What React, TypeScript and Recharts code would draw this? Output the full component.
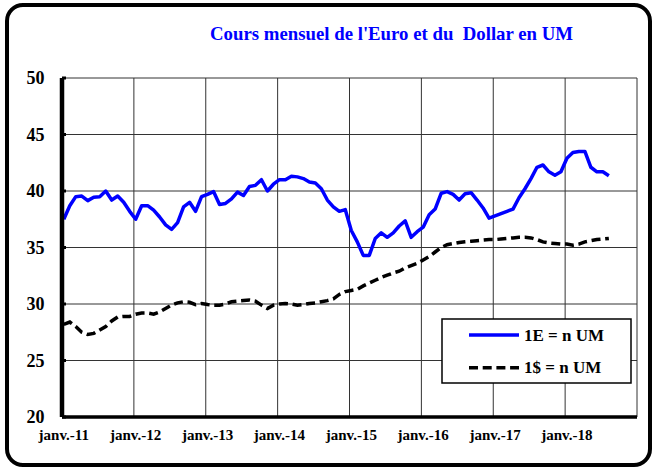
import React from 'react';
import { LineChart, Line, XAxis, YAxis, CartesianGrid, ReferenceLine, Legend } from 'recharts';

const yearLabels = ['janv.-11', 'janv.-12', 'janv.-13', 'janv.-14', 'janv.-15', 'janv.-16', 'janv.-17', 'janv.-18'];
const yearBoundaries = [12, 24, 36, 48, 60, 72, 84, 96];
const yTicks = [20, 25, 30, 35, 40, 45, 50];
const seriesNames = ['1E = n UM', '1$ = n UM'];

// monthly values from janv.-11, one per month
const euroValues = [
  37.5, 38.7, 39.5, 39.55, 39.15, 39.45, 39.5, 40.0, 39.2, 39.55, 39.0, 38.2,
  37.5, 38.7, 38.7, 38.3, 37.7, 37.0, 36.6, 37.2, 38.6, 39.0, 38.2, 39.5,
  39.7, 39.95, 38.8, 38.9, 39.3, 39.9, 39.6, 40.4, 40.5, 41.0, 40.0, 40.6,
  41.0, 41.0, 41.3, 41.25, 41.1, 40.8, 40.7, 40.2, 39.2, 38.6, 38.2, 38.35,
  36.5, 35.5, 34.3, 34.3, 35.8, 36.3, 35.9, 36.3, 36.9, 37.35, 35.9, 36.4,
  36.8, 37.9, 38.4, 39.8, 39.95, 39.7, 39.2, 39.75, 39.85, 39.2, 38.5, 37.6,
  37.8, 38.0, 38.2, 38.4, 39.4, 40.2, 41.1, 42.1, 42.3, 41.7, 41.4, 41.7,
  42.9, 43.4, 43.5, 43.5, 42.1, 41.7, 41.7, 41.35,
];

const dollarValues = [
  28.2, 28.4, 28.0, 27.5, 27.3, 27.4, 27.7, 28.0, 28.5, 28.85, 28.9, 28.9,
  29.1, 29.2, 29.2, 29.1, 29.3, 29.6, 29.9, 30.1, 30.2, 30.15, 29.95, 30.05,
  29.95, 29.9, 29.9, 30.0, 30.2, 30.25, 30.3, 30.35, 30.25, 29.9, 29.6, 29.9,
  30.0, 30.05, 30.0, 29.9, 29.95, 30.05, 30.1, 30.2, 30.3, 30.45, 30.85, 31.1,
  31.2, 31.3, 31.6, 31.85, 32.1, 32.35, 32.55, 32.75, 32.9, 33.2, 33.4, 33.6,
  33.9, 34.2, 34.6, 35.0, 35.25, 35.35, 35.45, 35.5, 35.55, 35.6, 35.65, 35.7,
  35.7, 35.75, 35.8, 35.85, 35.9, 35.9, 35.85, 35.7, 35.5, 35.4, 35.35, 35.3,
  35.3, 35.2, 35.3, 35.5, 35.6, 35.7, 35.75, 35.8,
];

// Excel centres points slightly right of the month boundary
const POINT_OFFSET = 0.3;

const data = euroValues.map((v, i) => ({ x: i + POINT_OFFSET, euro: v, dollar: dollarValues[i] }));
const xTicks = yearLabels.map((_, k) => k * 12 + POINT_OFFSET);

const FONT = "'Liberation Serif', 'Times New Roman', serif";

const XTick = (props: any) => {
  const { x, y, payload } = props;
  const idx = Math.round((payload.value - POINT_OFFSET) / 12);
  return (
    <text x={x} y={y} textAnchor="middle" fontFamily={FONT} fontWeight="bold" fontSize={15} fill="#000">
      {yearLabels[idx]}
    </text>
  );
};

const YTick = (props: any) => {
  const { x, y, payload } = props;
  return (
    <g>
      <line x1={x + 17.5} x2={x + 21.5} y1={y} y2={y} stroke="#000" strokeWidth={3} />
      <text x={x} y={y + 6.2} textAnchor="end" fontFamily={FONT} fontWeight="bold" fontSize={18} fill="#000">
        {payload.value}
      </text>
    </g>
  );
};

const LegendBox = (props: any) => {
  const payload = [...(props.payload || [])].sort(
    (a: any, b: any) => seriesNames.indexOf(a.value) - seriesNames.indexOf(b.value)
  );
  return (
    <svg width={191} height={66} style={{ display: 'block' }}>
      <rect x={1} y={1} width={189} height={64} fill="#fff" stroke="#000" strokeWidth={1.5} />
      {payload.map((e: any, k: number) => (
        <g key={k}>
          <line
            x1={28}
            x2={78}
            y1={17 + k * 32.7}
            y2={17 + k * 32.7}
            stroke={e.color}
            strokeWidth={3.5}
            strokeDasharray={e.payload && e.payload.strokeDasharray ? '9 4.7' : undefined}
          />
          <text x={83} y={22.7 + k * 32.6} fontFamily={FONT} fontWeight="bold" fontSize={17} fill="#000">
            {e.value}
          </text>
        </g>
      ))}
    </svg>
  );
};

export default function App() {
  return (
    <div style={{ position: 'absolute', left: 0, top: 0, width: 654, height: 468, background: '#fff' }}>
      <div style={{ position: 'absolute', left: 0, top: 0 }}>
        <LineChart width={654} height={468} data={data} margin={{ top: 78, right: 17, bottom: 0, left: 0 }}>
          <CartesianGrid horizontal={true} vertical={false} stroke="#333" strokeWidth={1} />
          {yearBoundaries.map((b) => (
            <ReferenceLine key={b} x={b} stroke="#333" strokeWidth={1} ifOverflow="extendDomain" />
          ))}
          <XAxis
            type="number"
            dataKey="x"
            domain={[0, 96]}
            ticks={xTicks}
            height={51}
            tickLine={false}
            tickSize={0}
            tickMargin={23}
            axisLine={{ stroke: '#000', strokeWidth: 3.5 }}
            tick={<XTick />}
            interval={0}
            allowDataOverflow
          />
          <YAxis
            type="number"
            domain={[20, 50]}
            ticks={yTicks}
            width={62}
            tickLine={false}
            tickSize={0}
            tickMargin={17.5}
            axisLine={{ stroke: '#000', strokeWidth: 4.5 }}
            tick={<YTick />}
            interval={0}
            allowDataOverflow
          />
          <Legend
            layout="horizontal"
            verticalAlign="middle"
            align="center"
            content={<LegendBox />}
            wrapperStyle={{ position: 'absolute', left: 441, top: 318, width: 191, height: 66 }}
          />
          <Line
            type="linear"
            dataKey="euro"
            name={seriesNames[0]}
            stroke="#0000FF"
            strokeWidth={3.5}
            strokeLinejoin="round"
            dot={false}
            activeDot={false}
            isAnimationActive={false}
          />
          <Line
            type="linear"
            dataKey="dollar"
            name={seriesNames[1]}
            stroke="#000"
            strokeWidth={3.5}
            strokeDasharray="9 4.7"
            dot={false}
            activeDot={false}
            isAnimationActive={false}
          />
        </LineChart>
      </div>
      <div
        style={{
          position: 'absolute',
          left: 0,
          width: 783,
          top: 25.3,
          textAlign: 'center',
          fontFamily: FONT,
          fontWeight: 'bold',
          fontSize: 18.8,
          lineHeight: 1,
          color: '#0000FF',
          whiteSpace: 'pre',
        }}
      >
        Cours mensuel de l'Euro et du  Dollar en UM
      </div>
      <div
        style={{
          position: 'absolute',
          left: 5,
          top: 3,
          width: 647,
          height: 464,
          border: '4px solid #000',
          borderRadius: 18,
          boxSizing: 'border-box',
          pointerEvents: 'none',
        }}
      />
    </div>
  );
}
